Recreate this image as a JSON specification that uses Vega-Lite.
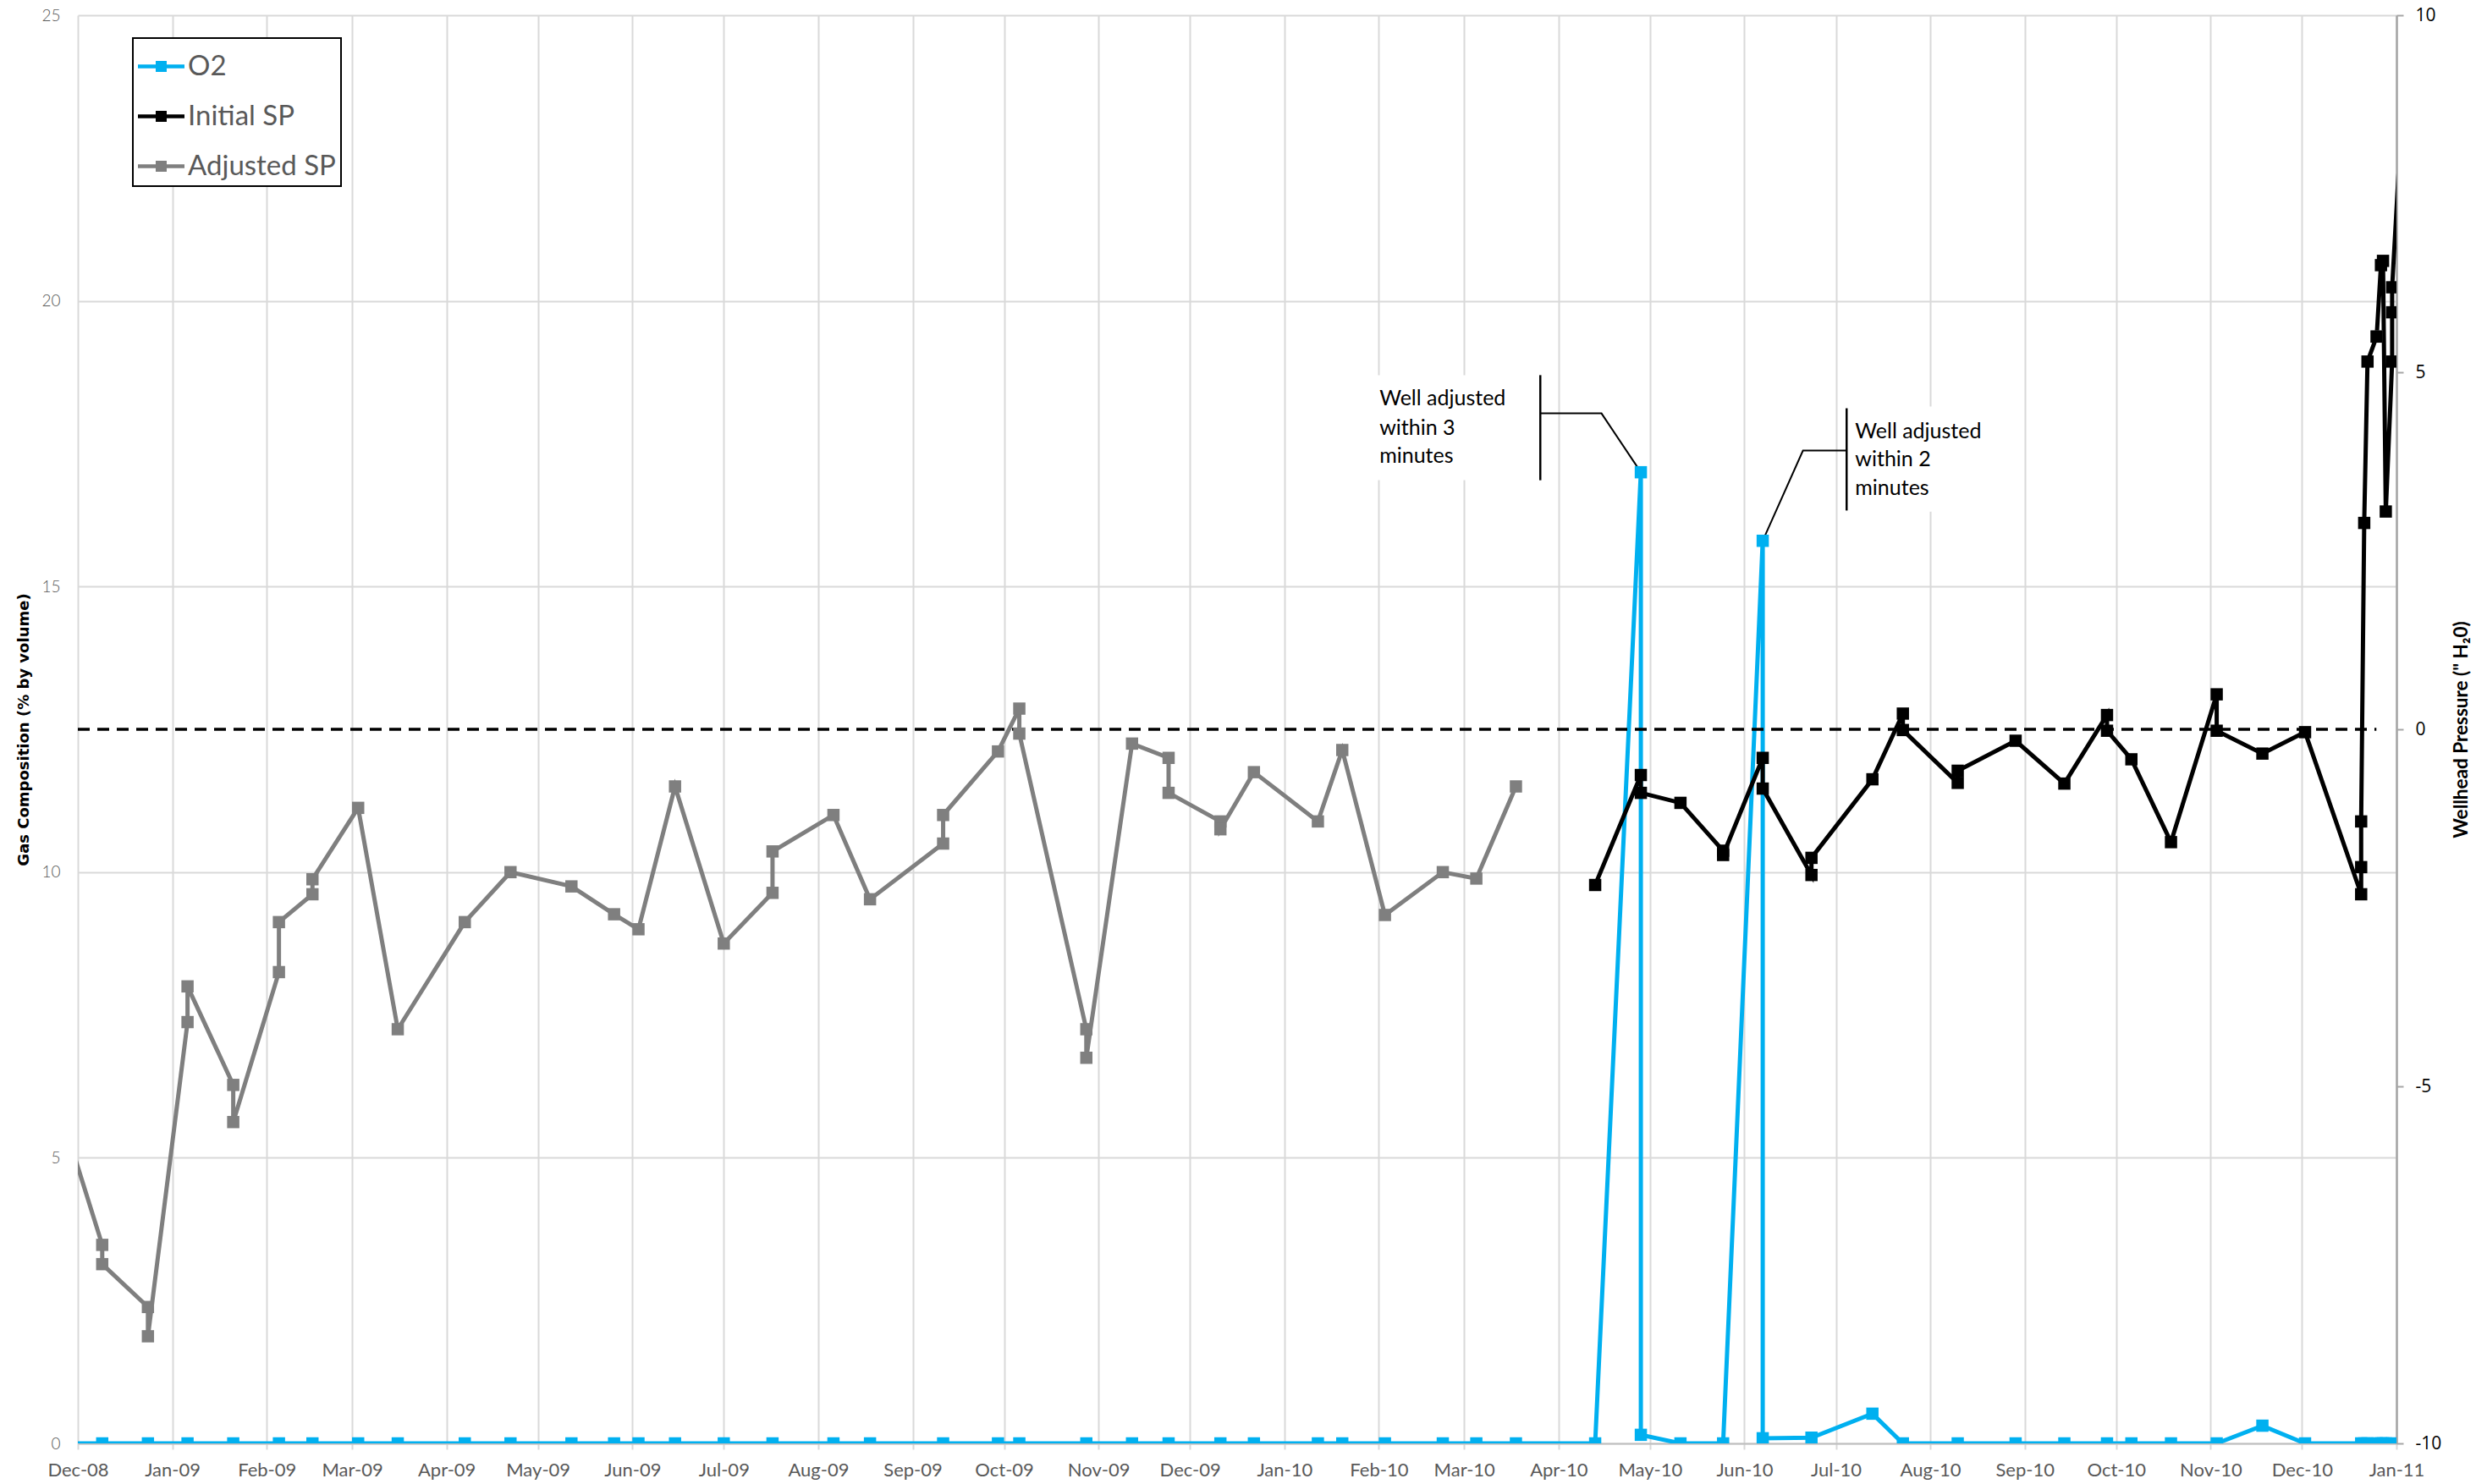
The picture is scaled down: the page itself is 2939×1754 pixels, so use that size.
{
  "$schema": "https://vega.github.io/schema/vega-lite/v6.json",
  "width": 2740,
  "height": 1688,
  "autosize": {"type": "none"},
  "padding": {"left": 92, "top": 18, "right": 107, "bottom": 48},
  "background": "white",
  "config": {
    "font": "Lato",
    "view": {"stroke": null},
    "axisX": {
      "grid": true, "gridColor": "#D9D9D9", "gridWidth": 2,
      "domainColor": "#BFBFBF", "domainWidth": 2,
      "tickColor": "#D9D9D9", "tickSize": 7, "tickWidth": 2,
      "labelFont": "Lato", "labelFontSize": 22, "labelColor": "#595959",
      "labelPadding": 14, "labelFlush": false, "labelOverlap": false
    },
    "axisLeft": {
      "grid": true, "gridColor": "#D9D9D9", "gridWidth": 2,
      "domain": false, "ticks": false,
      "labelFont": "Lato", "labelFontSize": 19, "labelFontWeight": 300, "labelColor": "#595959", "labelPadding": 21,
      "titleFont": "DejaVu Sans", "titleFontSize": 18, "titleFontWeight": "bold", "titleColor": "black", "titlePadding": 11
    },
    "axisRight": {
      "grid": false,
      "domain": true, "domainColor": "#A6A6A6", "domainWidth": 2.5,
      "ticks": true, "tickColor": "#A6A6A6", "tickSize": 8, "tickWidth": 2,
      "labelFont": "Open Sans", "labelFontSize": 21, "labelColor": "black", "labelPadding": 14,
      "titleFont": "Lato", "titleFontSize": 22.5, "titleFontWeight": "bold", "titleColor": "black",
      "titlePadding": 36, "titleAngle": 270
    }
  },
  "datasets": {
    "o2": [
      {"d": "2008-11-26", "v": 0, "k": 1},
      {"d": "2008-12-09", "v": 0, "k": 2},
      {"d": "2008-12-24", "v": 0, "k": 3},
      {"d": "2009-01-06", "v": 0, "k": 4},
      {"d": "2009-01-21", "v": 0, "k": 5},
      {"d": "2009-02-05", "v": 0, "k": 6},
      {"d": "2009-02-16", "v": 0, "k": 7},
      {"d": "2009-03-03", "v": 0, "k": 8},
      {"d": "2009-03-16", "v": 0, "k": 9},
      {"d": "2009-04-07", "v": 0, "k": 10},
      {"d": "2009-04-22", "v": 0, "k": 11},
      {"d": "2009-05-12", "v": 0, "k": 12},
      {"d": "2009-05-26", "v": 0, "k": 13},
      {"d": "2009-06-03", "v": 0, "k": 14},
      {"d": "2009-06-15", "v": 0, "k": 15},
      {"d": "2009-07-01", "v": 0, "k": 16},
      {"d": "2009-07-17", "v": 0, "k": 17},
      {"d": "2009-08-06", "v": 0, "k": 18},
      {"d": "2009-08-18", "v": 0, "k": 19},
      {"d": "2009-09-11", "v": 0, "k": 20},
      {"d": "2009-09-29", "v": 0, "k": 21},
      {"d": "2009-10-06", "v": 0, "k": 22},
      {"d": "2009-10-28", "v": 0, "k": 23},
      {"d": "2009-11-12", "v": 0, "k": 24},
      {"d": "2009-11-24", "v": 0, "k": 25},
      {"d": "2009-12-11", "v": 0, "k": 26},
      {"d": "2009-12-22", "v": 0, "k": 27},
      {"d": "2010-01-12", "v": 0, "k": 28},
      {"d": "2010-01-20", "v": 0, "k": 29},
      {"d": "2010-02-03", "v": 0, "k": 30},
      {"d": "2010-02-22", "v": 0, "k": 31},
      {"d": "2010-03-05", "v": 0, "k": 32},
      {"d": "2010-03-18", "v": 0, "k": 33},
      {"d": "2010-04-13", "v": 0, "k": 34},
      {"d": "2010-04-28", "v": 17.0, "k": 35},
      {"d": "2010-04-28", "v": 0.15, "k": 36},
      {"d": "2010-05-11", "v": 0, "k": 37},
      {"d": "2010-05-25", "v": 0, "k": 38},
      {"d": "2010-06-07", "v": 15.8, "k": 39},
      {"d": "2010-06-07", "v": 0.09, "k": 40},
      {"d": "2010-06-23", "v": 0.1, "k": 41},
      {"d": "2010-07-13", "v": 0.52, "k": 42},
      {"d": "2010-07-23", "v": 0, "k": 43},
      {"d": "2010-08-10", "v": 0, "k": 44},
      {"d": "2010-08-29", "v": 0, "k": 45},
      {"d": "2010-09-14", "v": 0, "k": 46},
      {"d": "2010-09-28", "v": 0, "k": 47},
      {"d": "2010-10-06", "v": 0, "k": 48},
      {"d": "2010-10-19", "v": 0, "k": 49},
      {"d": "2010-11-03", "v": 0, "k": 50},
      {"d": "2010-11-18", "v": 0.31, "k": 51},
      {"d": "2010-12-02", "v": 0, "k": 52},
      {"d": "2010-12-20T10:00:00Z", "v": 0, "k": 53},
      {"d": "2010-12-21T10:00:00Z", "v": 0, "k": 54},
      {"d": "2010-12-22T12:00:00Z", "v": 0, "k": 55},
      {"d": "2010-12-25T12:00:00Z", "v": 0, "k": 56},
      {"d": "2010-12-26T22:00:00Z", "v": 0, "k": 57},
      {"d": "2010-12-27T14:00:00Z", "v": 0, "k": 58},
      {"d": "2010-12-28T12:00:00Z", "v": 0, "k": 59},
      {"d": "2010-12-30T14:00:00Z", "v": 0, "k": 60}
    ],
    "sp": [
      {"s": "Adjusted SP", "run": "A1", "k": 1, "d": "2008-11-26", "v": -5.45},
      {"s": "Adjusted SP", "run": "A1", "k": 2, "d": "2008-12-09", "v": -7.22},
      {"s": "Adjusted SP", "run": "A1", "k": 3, "d": "2008-12-09", "v": -7.49},
      {"s": "Adjusted SP", "run": "A1", "k": 4, "d": "2008-12-24", "v": -8.09},
      {"s": "Adjusted SP", "run": "A1", "k": 5, "d": "2008-12-24", "v": -8.5},
      {"s": "Adjusted SP", "run": "A1", "k": 6, "d": "2009-01-06", "v": -4.1},
      {"s": "Adjusted SP", "run": "A1", "k": 7, "d": "2009-01-06", "v": -3.6},
      {"s": "Adjusted SP", "run": "A1", "k": 8, "d": "2009-01-21", "v": -4.98},
      {"s": "Adjusted SP", "run": "A1", "k": 9, "d": "2009-01-21", "v": -5.5},
      {"s": "Adjusted SP", "run": "A1", "k": 10, "d": "2009-02-05", "v": -3.4},
      {"s": "Adjusted SP", "run": "A1", "k": 11, "d": "2009-02-05", "v": -2.7},
      {"s": "Adjusted SP", "run": "A1", "k": 12, "d": "2009-02-16", "v": -2.31},
      {"s": "Adjusted SP", "run": "A1", "k": 13, "d": "2009-02-16", "v": -2.1},
      {"s": "Adjusted SP", "run": "A1", "k": 14, "d": "2009-03-03", "v": -1.1},
      {"s": "Adjusted SP", "run": "A1", "k": 15, "d": "2009-03-16", "v": -4.2},
      {"s": "Adjusted SP", "run": "A1", "k": 16, "d": "2009-04-07", "v": -2.7},
      {"s": "Adjusted SP", "run": "A1", "k": 17, "d": "2009-04-22", "v": -2.0},
      {"s": "Adjusted SP", "run": "A1", "k": 18, "d": "2009-05-12", "v": -2.2},
      {"s": "Adjusted SP", "run": "A1", "k": 19, "d": "2009-05-26", "v": -2.59},
      {"s": "Adjusted SP", "run": "A1", "k": 20, "d": "2009-06-03", "v": -2.8},
      {"s": "Adjusted SP", "run": "A1", "k": 21, "d": "2009-06-15", "v": -0.8},
      {"s": "Adjusted SP", "run": "A1", "k": 22, "d": "2009-07-01", "v": -3.0},
      {"s": "Adjusted SP", "run": "A1", "k": 23, "d": "2009-07-17", "v": -2.29},
      {"s": "Adjusted SP", "run": "A1", "k": 24, "d": "2009-07-17", "v": -1.71},
      {"s": "Adjusted SP", "run": "A1", "k": 25, "d": "2009-08-06", "v": -1.2},
      {"s": "Adjusted SP", "run": "A1", "k": 26, "d": "2009-08-18", "v": -2.38},
      {"s": "Adjusted SP", "run": "A1", "k": 27, "d": "2009-09-11", "v": -1.6},
      {"s": "Adjusted SP", "run": "A1", "k": 28, "d": "2009-09-11", "v": -1.2},
      {"s": "Adjusted SP", "run": "A1", "k": 29, "d": "2009-09-29", "v": -0.31},
      {"s": "Adjusted SP", "run": "A1", "k": 30, "d": "2009-10-06", "v": 0.29},
      {"s": "Adjusted SP", "run": "A1", "k": 31, "d": "2009-10-06", "v": -0.06},
      {"s": "Adjusted SP", "run": "A1", "k": 32, "d": "2009-10-28", "v": -4.2},
      {"s": "Adjusted SP", "run": "A1", "k": 33, "d": "2009-10-28", "v": -4.6},
      {"s": "Adjusted SP", "run": "A1", "k": 34, "d": "2009-11-12", "v": -0.2},
      {"s": "Adjusted SP", "run": "A1", "k": 35, "d": "2009-11-24", "v": -0.4},
      {"s": "Adjusted SP", "run": "A1", "k": 36, "d": "2009-11-24", "v": -0.89},
      {"s": "Adjusted SP", "run": "A1", "k": 37, "d": "2009-12-11", "v": -1.29},
      {"s": "Adjusted SP", "run": "A1", "k": 38, "d": "2009-12-11", "v": -1.4},
      {"s": "Adjusted SP", "run": "A1", "k": 39, "d": "2009-12-22", "v": -0.6},
      {"s": "Adjusted SP", "run": "A1", "k": 40, "d": "2010-01-12", "v": -1.29},
      {"s": "Adjusted SP", "run": "A1", "k": 41, "d": "2010-01-20", "v": -0.29},
      {"s": "Adjusted SP", "run": "A1", "k": 42, "d": "2010-02-03", "v": -2.6},
      {"s": "Adjusted SP", "run": "A1", "k": 43, "d": "2010-02-22", "v": -2.0},
      {"s": "Adjusted SP", "run": "A1", "k": 44, "d": "2010-03-05", "v": -2.09},
      {"s": "Adjusted SP", "run": "A1", "k": 45, "d": "2010-03-18", "v": -0.8},
      {"s": "Adjusted SP", "run": "A2", "k": 46, "d": "2010-12-25T12:00:00Z", "v": 5.5},
      {"s": "Initial SP", "run": "I1", "k": 1, "d": "2010-04-13", "v": -2.18},
      {"s": "Initial SP", "run": "I1", "k": 2, "d": "2010-04-28", "v": -0.64},
      {"s": "Initial SP", "run": "I1", "k": 3, "d": "2010-04-28", "v": -0.89},
      {"s": "Initial SP", "run": "I1", "k": 4, "d": "2010-05-11", "v": -1.03},
      {"s": "Initial SP", "run": "I1", "k": 5, "d": "2010-05-25", "v": -1.7},
      {"s": "Initial SP", "run": "I1", "k": 6, "d": "2010-05-25", "v": -1.76},
      {"s": "Initial SP", "run": "I1", "k": 7, "d": "2010-06-07", "v": -0.4},
      {"s": "Initial SP", "run": "I1", "k": 8, "d": "2010-06-07", "v": -0.83},
      {"s": "Initial SP", "run": "I1", "k": 9, "d": "2010-06-23", "v": -2.04},
      {"s": "Initial SP", "run": "I1", "k": 10, "d": "2010-06-23", "v": -1.8},
      {"s": "Initial SP", "run": "I1", "k": 11, "d": "2010-07-13", "v": -0.7},
      {"s": "Initial SP", "run": "I1", "k": 12, "d": "2010-07-23", "v": 0.22},
      {"s": "Initial SP", "run": "I1", "k": 13, "d": "2010-07-23", "v": -0.01},
      {"s": "Initial SP", "run": "I1", "k": 14, "d": "2010-08-10", "v": -0.75},
      {"s": "Initial SP", "run": "I1", "k": 15, "d": "2010-08-10", "v": -0.58},
      {"s": "Initial SP", "run": "I1", "k": 16, "d": "2010-08-29", "v": -0.16},
      {"s": "Initial SP", "run": "I1", "k": 17, "d": "2010-09-14", "v": -0.76},
      {"s": "Initial SP", "run": "I1", "k": 18, "d": "2010-09-28", "v": 0.2},
      {"s": "Initial SP", "run": "I1", "k": 19, "d": "2010-09-28", "v": -0.02},
      {"s": "Initial SP", "run": "I1", "k": 20, "d": "2010-10-06", "v": -0.42},
      {"s": "Initial SP", "run": "I1", "k": 21, "d": "2010-10-19", "v": -1.58},
      {"s": "Initial SP", "run": "I1", "k": 22, "d": "2010-11-03", "v": 0.49},
      {"s": "Initial SP", "run": "I1", "k": 23, "d": "2010-11-03", "v": -0.02},
      {"s": "Initial SP", "run": "I1", "k": 24, "d": "2010-11-18", "v": -0.34},
      {"s": "Initial SP", "run": "I1", "k": 25, "d": "2010-12-02", "v": -0.04},
      {"s": "Initial SP", "run": "I1", "k": 26, "d": "2010-12-20T10:00:00Z", "v": -2.31},
      {"s": "Initial SP", "run": "I1", "k": 27, "d": "2010-12-20T10:00:00Z", "v": -1.93},
      {"s": "Initial SP", "run": "I1", "k": 28, "d": "2010-12-20T10:00:00Z", "v": -1.29},
      {"s": "Initial SP", "run": "I1", "k": 29, "d": "2010-12-21T10:00:00Z", "v": 2.89},
      {"s": "Initial SP", "run": "I1", "k": 30, "d": "2010-12-22T12:00:00Z", "v": 5.15},
      {"s": "Initial SP", "run": "I1", "k": 31, "d": "2010-12-25T12:00:00Z", "v": 5.5},
      {"s": "Initial SP", "run": "I1", "k": 32, "d": "2010-12-26T22:00:00Z", "v": 6.5},
      {"s": "Initial SP", "run": "I1", "k": 33, "d": "2010-12-27T14:00:00Z", "v": 6.56},
      {"s": "Initial SP", "run": "I1", "k": 34, "d": "2010-12-28T12:00:00Z", "v": 3.05},
      {"s": "Initial SP", "run": "I1", "k": 35, "d": "2010-12-30T14:00:00Z", "v": 5.15},
      {"s": "Initial SP", "run": "I1", "k": 36, "d": "2010-12-30T14:00:00Z", "v": 5.84},
      {"s": "Initial SP", "run": "I1", "k": 37, "d": "2010-12-30T14:00:00Z", "v": 6.19},
      {"s": "Initial SP", "run": "I1", "k": 38, "d": "2011-01-05", "v": 10.3}
    ],
    "ref": [
      {"d": "2008-12-01", "v": 0},
      {"d": "2010-12-25T10:00:00Z", "v": 0}
    ],
    "boxes": [
      {"d1": "2010-01-29T12:00:00Z", "d2": "2010-03-26", "v1": 16.86, "v2": 18.7},
      {"d1": "2010-07-04T13:00:00Z", "d2": "2010-08-23", "v1": 16.31, "v2": 18.15}
    ],
    "bars": [
      {"d": "2010-03-26", "v1": 16.86, "v2": 18.7},
      {"d": "2010-07-04T13:00:00Z", "v1": 16.33, "v2": 18.12}
    ],
    "leaders": [
      {"g": 1, "k": 1, "d": "2010-03-26", "v": 18.03},
      {"g": 1, "k": 2, "d": "2010-04-15T02:00:00Z", "v": 18.03},
      {"g": 1, "k": 3, "d": "2010-04-28", "v": 17.0},
      {"g": 2, "k": 1, "d": "2010-07-04T13:00:00Z", "v": 17.38},
      {"g": 2, "k": 2, "d": "2010-06-20T05:00:00Z", "v": 17.38},
      {"g": 2, "k": 3, "d": "2010-06-07", "v": 15.8}
    ],
    "notes": [
      {"d": "2010-02-01T05:00:00Z", "v": 18.165, "t": "Well adjusted"},
      {"d": "2010-02-01T05:00:00Z", "v": 17.66, "t": "within 3"},
      {"d": "2010-02-01T05:00:00Z", "v": 17.16, "t": "minutes"},
      {"d": "2010-07-07T08:00:00Z", "v": 17.6, "t": "Well adjusted"},
      {"d": "2010-07-07T08:00:00Z", "v": 17.1, "t": "within 2"},
      {"d": "2010-07-07T08:00:00Z", "v": 16.6, "t": "minutes"}
    ]
  },
  "layer": [
    {
      "layer": [
        {
          "data": {"name": "boxes"},
          "mark": {"type": "rect", "fill": "white", "stroke": null},
          "encoding": {
            "x": {"field": "d1", "type": "temporal", "title": null,
                  "scale": {"type": "utc", "domain": [{"year": 2008, "month": 12, "date": 1, "utc": true}, {"year": 2011, "month": 1, "date": 1, "utc": true}]},
                  "axis": {"format": "%b-%y", "tickCount": {"interval": "month", "step": 1}}},
            "x2": {"field": "d2"},
            "y": {"field": "v1", "type": "quantitative", "title": "Gas Composition (% by volume)",
                  "scale": {"domain": [0, 25], "nice": false},
                  "axis": {"orient": "left", "values": [0, 5, 10, 15, 20, 25]}},
            "y2": {"field": "v2"}
          }
        },
        {
          "data": {"name": "bars"},
          "mark": {"type": "rule", "color": "black", "strokeWidth": 2.5},
          "encoding": {
            "x": {"field": "d", "type": "temporal", "title": null,
                  "scale": {"type": "utc", "domain": [{"year": 2008, "month": 12, "date": 1, "utc": true}, {"year": 2011, "month": 1, "date": 1, "utc": true}]},
                  "axis": {"format": "%b-%y", "tickCount": {"interval": "month", "step": 1}}},
            "y": {"field": "v1", "type": "quantitative", "title": "Gas Composition (% by volume)",
                  "scale": {"domain": [0, 25], "nice": false},
                  "axis": {"orient": "left", "values": [0, 5, 10, 15, 20, 25]}},
            "y2": {"field": "v2"}
          }
        },
        {
          "data": {"name": "leaders"},
          "mark": {"type": "line", "color": "black", "strokeWidth": 2},
          "encoding": {
            "x": {"field": "d", "type": "temporal", "title": null,
                  "scale": {"type": "utc", "domain": [{"year": 2008, "month": 12, "date": 1, "utc": true}, {"year": 2011, "month": 1, "date": 1, "utc": true}]},
                  "axis": {"format": "%b-%y", "tickCount": {"interval": "month", "step": 1}}},
            "y": {"field": "v", "type": "quantitative", "title": "Gas Composition (% by volume)",
                  "scale": {"domain": [0, 25], "nice": false},
                  "axis": {"orient": "left", "values": [0, 5, 10, 15, 20, 25]}},
            "detail": {"field": "g", "type": "nominal"},
            "order": {"field": "k", "type": "quantitative"}
          }
        },
        {
          "data": {"name": "notes"},
          "mark": {"type": "text", "align": "left", "baseline": "alphabetic", "font": "Lato", "fontSize": 25, "color": "black"},
          "encoding": {
            "x": {"field": "d", "type": "temporal", "title": null,
                  "scale": {"type": "utc", "domain": [{"year": 2008, "month": 12, "date": 1, "utc": true}, {"year": 2011, "month": 1, "date": 1, "utc": true}]},
                  "axis": {"format": "%b-%y", "tickCount": {"interval": "month", "step": 1}}},
            "y": {"field": "v", "type": "quantitative", "title": "Gas Composition (% by volume)",
                  "scale": {"domain": [0, 25], "nice": false},
                  "axis": {"orient": "left", "values": [0, 5, 10, 15, 20, 25]}},
            "text": {"field": "t", "type": "nominal"}
          }
        },
        {
          "data": {"name": "o2"},
          "mark": {"type": "line", "strokeWidth": 5, "clip": true},
          "encoding": {
            "x": {"field": "d", "type": "temporal", "title": null,
                  "scale": {"type": "utc", "domain": [{"year": 2008, "month": 12, "date": 1, "utc": true}, {"year": 2011, "month": 1, "date": 1, "utc": true}]},
                  "axis": {"format": "%b-%y", "tickCount": {"interval": "month", "step": 1}}},
            "y": {"field": "v", "type": "quantitative", "title": "Gas Composition (% by volume)",
                  "scale": {"domain": [0, 25], "nice": false},
                  "axis": {"orient": "left", "values": [0, 5, 10, 15, 20, 25]}},
            "color": {"datum": "O2",
                      "scale": {"domain": ["O2", "Initial SP", "Adjusted SP"], "range": ["#00B0F0", "#000000", "#7F7F7F"]}},
            "order": {"field": "k", "type": "quantitative"}
          }
        },
        {
          "data": {"name": "o2"},
          "mark": {"type": "point", "shape": "square", "filled": true, "opacity": 1, "size": 210, "clip": true},
          "encoding": {
            "x": {"field": "d", "type": "temporal", "title": null,
                  "scale": {"type": "utc", "domain": [{"year": 2008, "month": 12, "date": 1, "utc": true}, {"year": 2011, "month": 1, "date": 1, "utc": true}]},
                  "axis": {"format": "%b-%y", "tickCount": {"interval": "month", "step": 1}}},
            "y": {"field": "v", "type": "quantitative", "title": "Gas Composition (% by volume)",
                  "scale": {"domain": [0, 25], "nice": false},
                  "axis": {"orient": "left", "values": [0, 5, 10, 15, 20, 25]}},
            "color": {"datum": "O2",
                      "scale": {"domain": ["O2", "Initial SP", "Adjusted SP"], "range": ["#00B0F0", "#000000", "#7F7F7F"]}}
          }
        }
      ]
    },
    {
      "layer": [
        {
          "data": {"name": "ref"},
          "mark": {"type": "line", "color": "black", "strokeWidth": 3.5, "strokeDash": [14, 9]},
          "encoding": {
            "x": {"field": "d", "type": "temporal", "title": null,
                  "scale": {"type": "utc", "domain": [{"year": 2008, "month": 12, "date": 1, "utc": true}, {"year": 2011, "month": 1, "date": 1, "utc": true}]},
                  "axis": {"format": "%b-%y", "tickCount": {"interval": "month", "step": 1}}},
            "y": {"field": "v", "type": "quantitative", "title": "Wellhead Pressure (\" H₂0)",
                  "scale": {"domain": [-10, 10], "nice": false},
                  "axis": {"orient": "right", "values": [-10, -5, 0, 5, 10], "labelExpr": "'' + datum.value"}}
          }
        },
        {
          "data": {"name": "sp"},
          "mark": {"type": "line", "strokeWidth": 5, "clip": true},
          "encoding": {
            "x": {"field": "d", "type": "temporal", "title": null,
                  "scale": {"type": "utc", "domain": [{"year": 2008, "month": 12, "date": 1, "utc": true}, {"year": 2011, "month": 1, "date": 1, "utc": true}]},
                  "axis": {"format": "%b-%y", "tickCount": {"interval": "month", "step": 1}}},
            "y": {"field": "v", "type": "quantitative", "title": "Wellhead Pressure (\" H₂0)",
                  "scale": {"domain": [-10, 10], "nice": false},
                  "axis": {"orient": "right", "values": [-10, -5, 0, 5, 10], "labelExpr": "'' + datum.value"}},
            "color": {"field": "s", "type": "nominal",
                      "scale": {"domain": ["O2", "Initial SP", "Adjusted SP"], "range": ["#00B0F0", "#000000", "#7F7F7F"]}},
            "detail": {"field": "run", "type": "nominal"},
            "order": {"field": "k", "type": "quantitative"}
          }
        },
        {
          "data": {"name": "sp"},
          "mark": {"type": "point", "shape": "square", "filled": true, "opacity": 1, "size": 210, "clip": true},
          "encoding": {
            "x": {"field": "d", "type": "temporal", "title": null,
                  "scale": {"type": "utc", "domain": [{"year": 2008, "month": 12, "date": 1, "utc": true}, {"year": 2011, "month": 1, "date": 1, "utc": true}]},
                  "axis": {"format": "%b-%y", "tickCount": {"interval": "month", "step": 1}}},
            "y": {"field": "v", "type": "quantitative", "title": "Wellhead Pressure (\" H₂0)",
                  "scale": {"domain": [-10, 10], "nice": false},
                  "axis": {"orient": "right", "values": [-10, -5, 0, 5, 10], "labelExpr": "'' + datum.value"}},
            "color": {"field": "s", "type": "nominal",
                      "scale": {"domain": ["O2", "Initial SP", "Adjusted SP"], "range": ["#00B0F0", "#000000", "#7F7F7F"]},
                      "legend": {
                        "orient": "none", "legendX": 65, "legendY": 27, "title": null,
                        "symbolType": "M-1,-0.082H1V0.082H-1Z M-0.236,-0.236H0.236V0.236H-0.236Z",
                        "symbolSize": 3025, "symbolStrokeWidth": 0, "symbolOpacity": 1,
                        "labelFont": "Lato", "labelFontSize": 33, "labelColor": "#595959", "labelOffset": 4,
                        "labelLimit": 400,
                        "rowPadding": 14, "padding": 6,
                        "strokeColor": "black", "fillColor": "white",
                        "encode": {
                          "symbols": {"update": {"fill": {"scale": "color", "field": "value"}, "strokeWidth": {"value": 0}, "opacity": {"value": 1}}},
                          "legend": {"update": {"strokeWidth": {"value": 2}}}
                        }
                      }}
          }
        }
      ]
    }
  ],
  "resolve": {"scale": {"y": "independent"}, "axis": {"y": "independent"}}
}
